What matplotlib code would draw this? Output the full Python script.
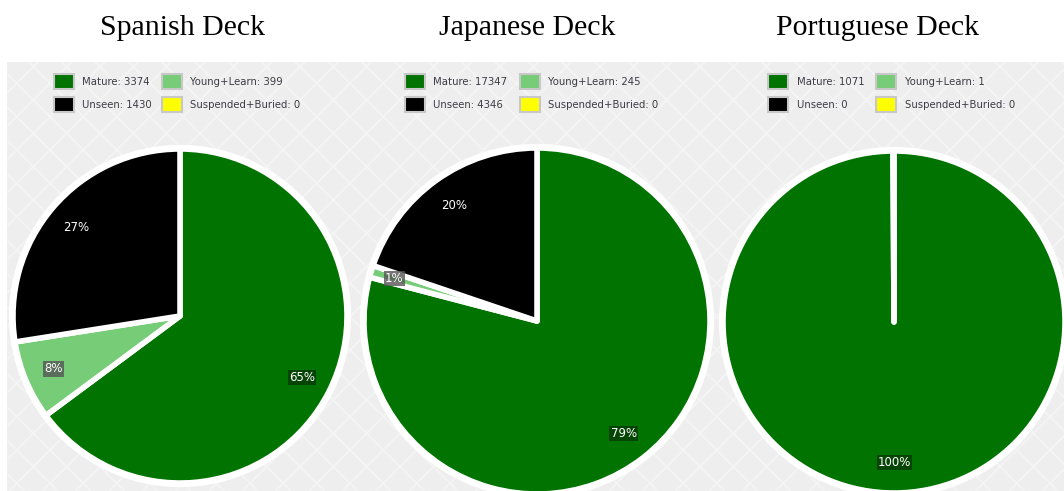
import matplotlib
matplotlib.use("Agg")
import matplotlib.pyplot as plt
from matplotlib.patches import Rectangle
import numpy as np

# === data ===
decks = ["Spanish Deck", "Japanese Deck", "Portuguese Deck"]
categories = ["Mature", "Young+Learn", "Unseen", "Suspended+Buried"]
spanish = [3374, 399, 1430, 0]
japanese = [17347, 245, 4346, 0]
portuguese = [1071, 1, 0, 0]
colors = ["#007300", "#77cc77", "#000000", "#ffff00"]
label_boxes = ["#0a3a0a", "#555555", "#000000", "#777700"]

W, H = 1064, 491

# layout in pixels (x, y from top)
pie_centers = [(180, 316), (537, 321), (894, 322)]
pie_radii = [167, 173, 171]
title_x = [183, 527, 877]
legend_x = [(54, 82, 162, 190), (405, 433, 520, 548), (768, 797, 876, 905)]

fig = plt.figure(figsize=(W / 100, H / 100), dpi=100)
fig.patch.set_facecolor("white")
ax = fig.add_axes([0, 0, 1, 1])
ax.set_xlim(0, W)
ax.set_ylim(0, H)
ax.set_aspect("equal")
ax.axis("off")

# grey textured background
plt.rcParams["hatch.linewidth"] = 1.5
ax.add_patch(Rectangle((7, 0), W - 7, H - 62, facecolor="#eeeeee",
                       edgecolor="#f4f4f4", hatch="x", linewidth=0, zorder=0))

for i, vals in enumerate([spanish, japanese, portuguese]):
    cx, cy = pie_centers[i]
    r = pie_radii[i]
    cy = H - cy
    total = sum(vals)
    keep = [k for k, v in enumerate(vals) if v > 0]
    wedges, _ = ax.pie([vals[k] for k in keep], colors=[colors[k] for k in keep],
                       startangle=90, counterclock=False, center=(cx, cy), radius=r,
                       wedgeprops=dict(edgecolor="white", linewidth=4, joinstyle="round"),
                       frame=True)
    # outer white ring
    ax.add_patch(plt.Circle((cx, cy), r + 2, facecolor="none", edgecolor="white",
                            linewidth=3, zorder=3))
    # percentage labels
    acc = 0
    for k in keep:
        frac = vals[k] / total
        mid = (acc + frac / 2) * 2 * np.pi
        acc += frac
        pct = round(frac * 100)
        if pct < 1:
            continue
        d = 0.82 * r if pct > 2 else 0.86 * r
        tx = cx + d * np.sin(mid)
        ty = cy + d * np.cos(mid)
        ax.text(tx, ty, f"{pct}%", color="white", fontsize=8.5, ha="center", va="center",
                zorder=5, bbox=dict(boxstyle="square,pad=0.1", facecolor=label_boxes[k],
                                    edgecolor="none", alpha=0.8))

    # title
    ax.text(title_x[i], H - 28, decks[i], fontsize=21.5, family="Liberation Serif",
            ha="center", va="center", color="black")

    # legend 2x2
    sx1, tx1, sx2, tx2 = legend_x[i]
    entries = [(0, sx1, tx1, 82), (1, sx2, tx2, 82), (2, sx1, tx1, 105), (3, sx2, tx2, 105)]
    for k, sx, tx, yy in entries:
        ax.add_patch(Rectangle((sx, H - yy - 7), 20, 15, facecolor=colors[k],
                               edgecolor="#c8c8c8", linewidth=1.5, zorder=4))
        ax.text(tx, H - yy, f"{categories[k]}: {vals[k]}", fontsize=7.3, color="#3c3c44",
                ha="left", va="center", zorder=4)

ax.set_xlim(0, W)
ax.set_ylim(0, H)
ax.axis("off")

fig.savefig("out.png", dpi=100)
